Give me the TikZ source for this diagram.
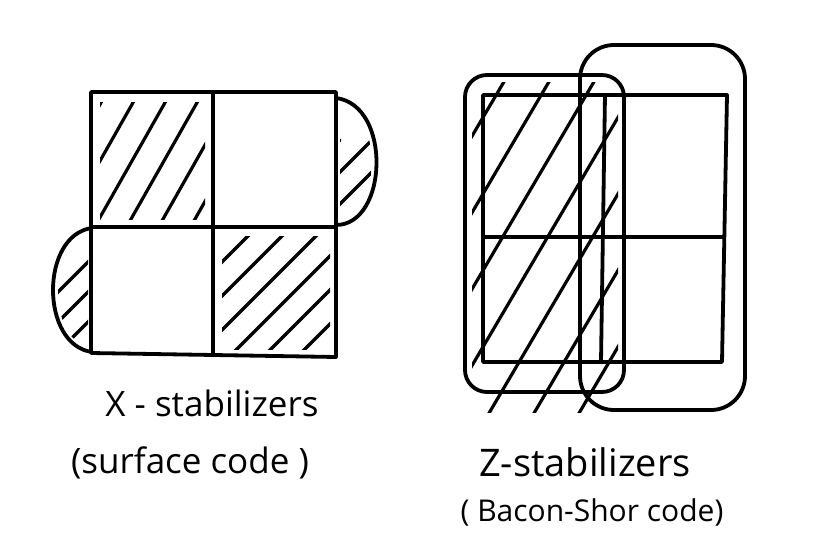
\documentclass[tikz,border=0pt]{standalone}
\usepackage{fontspec}
\setmainfont{Open Sans}
\usetikzlibrary{positioning}
\tikzset{
  pen/.style={line width=3.8pt, line cap=round, line join=round},
  hatchline/.style={line width=3.2pt, line cap=round},
  lbl/.style={font=\fontsize{35}{40}\selectfont, inner sep=0pt}
}

\begin{document}
\begin{tikzpicture}[x=1pt, y=-1pt]
\useasboundingbox (0,0) rectangle (814,538);

% surface code: hatched squares and boundary bulges
\begin{scope}
  \clip (100,102) rectangle (205,219);
  \foreach \s in {-70,-38,...,210} \draw[hatchline] (\s,235) -- ++(85,-150);
\end{scope}
\begin{scope}
  \clip (222,236) rectangle (330,349);
  \foreach \s in {90,124,...,350} \draw[hatchline] (\s,360) -- ++(140,-140);
\end{scope}
\begin{scope}
  \clip (340,104) .. controls (384,110) and (380,220) .. (340,220) -- cycle;
  \foreach \s in {240,272,...,400} \draw[hatchline] (\s,240) -- ++(100,-100);
\end{scope}
\begin{scope}
  \clip (88,236) .. controls (48,242) and (48,340) .. (88,346) -- cycle;
  \foreach \s in {-40,-10,...,120} \draw[hatchline] (\s,360) -- ++(100,-100);
\end{scope}
\draw[pen] (336,98) .. controls (392,105) and (388,225) .. (336,225);
\draw[pen] (92,228) .. controls (40,235) and (40,345) .. (92,352);
\draw[pen] (91,92) -- (336,92) -- (336,357) -- (91,353) -- cycle;
\draw[pen] (213,92) -- (213,355);
\draw[pen] (91,227) -- (336,227);

% Bacon-Shor code: hatched column and two column stabilizers
\begin{scope}
  \clip (472,82) rectangle (618,412);
  \foreach \s in {260,305,...,700} \draw[hatchline] (\s,420) -- ++(200,-340);
\end{scope}
\draw[pen] (483,95) -- (727,95) -- (722,362) -- (483,362) -- cycle;
\draw[pen] (605,95) -- (601,362);
\draw[pen] (483,237) -- (722,237);
\draw[pen, rounded corners=22pt] (465,75) rectangle (624,392);
\draw[pen, rounded corners=34pt] (580,45) rectangle (745,410);

% labels
\node[lbl] (xstab) at (212,403) {X - stabilizers};
\node[lbl] (surf) at (190,463) {(surface code )};
\node[lbl, font=\fontsize{38}{42}\selectfont] (zstab) at (585,462) {Z-stabilizers};
\node[lbl, font=\fontsize{30}{34}\selectfont] (bacon) at (592,512) {( Bacon-Shor code)};
\end{tikzpicture}
\end{document}
